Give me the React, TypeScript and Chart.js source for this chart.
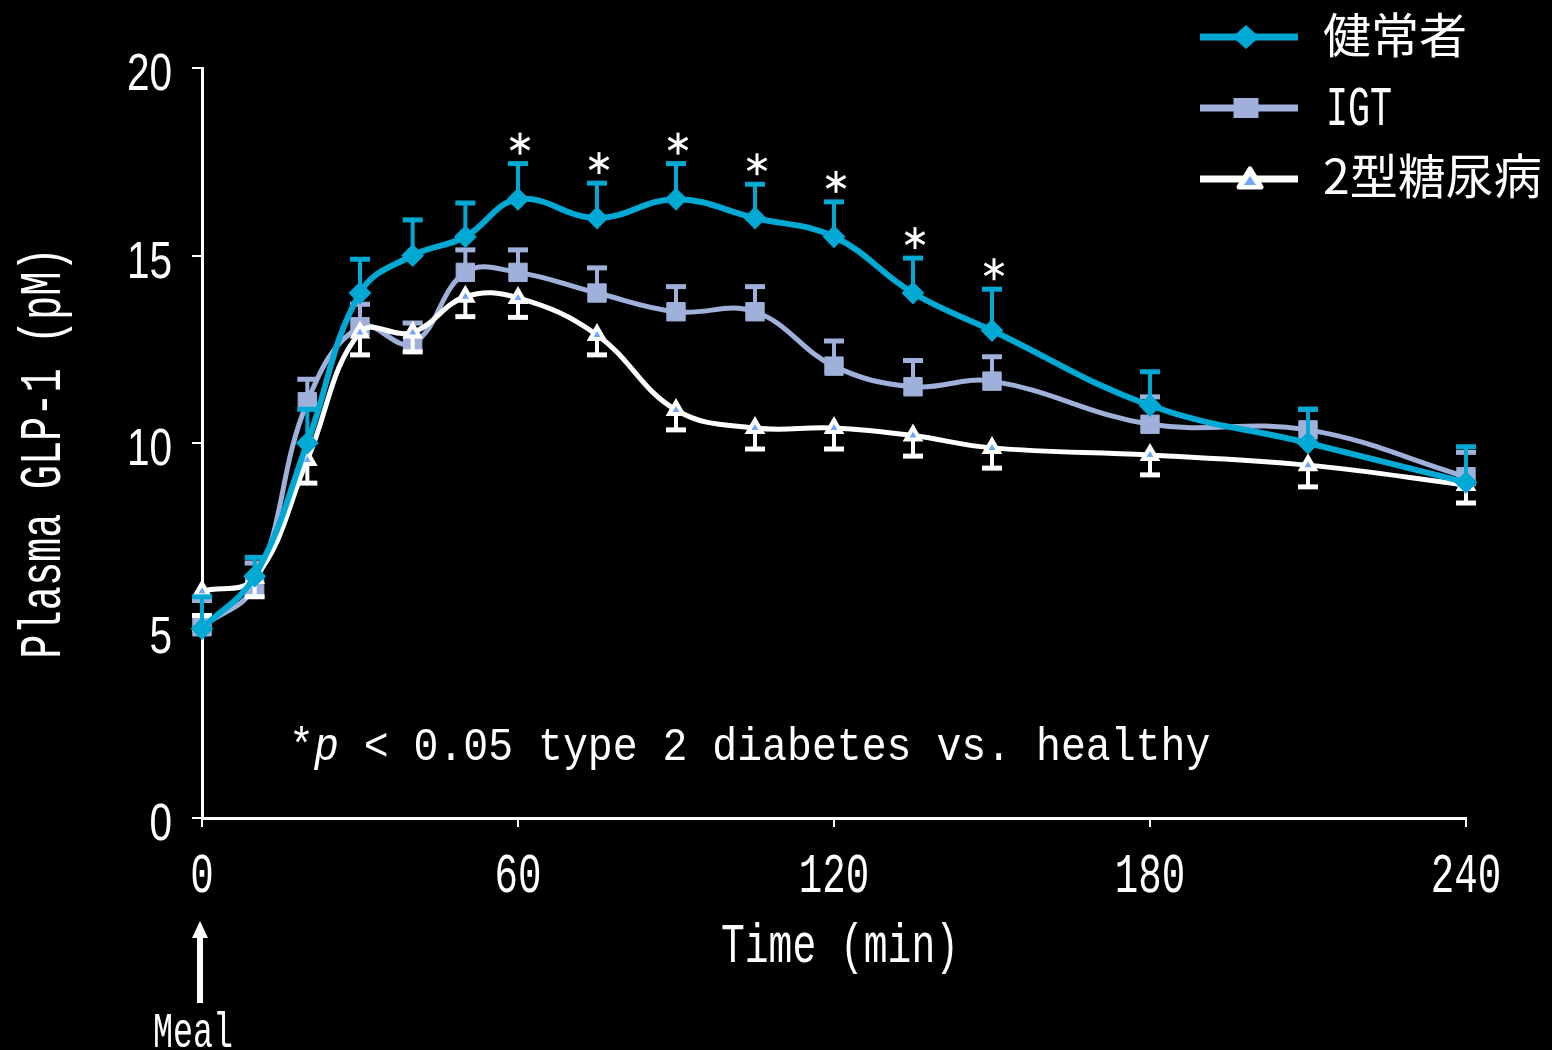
import React, { useEffect, useRef } from 'react';
import { Chart, registerables } from 'chart.js';

Chart.register(...registerables);

// ---------- data ----------
const timePoints = [0, 10, 20, 30, 40, 50, 60, 75, 90, 105, 120, 135, 150, 180, 210, 240];
const healthyMean = [5.05, 6.45, 10.0, 14.0, 15.0, 15.5, 16.5, 16.0, 16.5, 16.0, 15.5, 14.0, 13.0, 11.0, 10.0, 8.95];
const healthyUpper = [5.9, 6.95, 10.9, 14.9, 15.95, 16.4, 17.45, 16.93, 17.45, 16.9, 16.43, 14.93, 14.1, 11.9, 10.9, 9.9];
const igtMean = [5.1, 6.2, 11.1, 13.1, 12.65, 14.55, 14.55, 14.0, 13.5, 13.5, 12.05, 11.5, 11.65, 10.5, 10.35, 9.1];
const igtUpper = [5.8, 6.8, 11.7, 13.7, 13.2, 15.15, 15.15, 14.67, 14.17, 14.17, 12.72, 12.2, 12.3, 11.23, 10.9, 9.75];
const t2dMean = [6.05, 6.4, 9.55, 12.95, 12.95, 13.9, 13.87, 12.88, 10.88, 10.4, 10.4, 10.2, 9.87, 9.68, 9.41, 8.88];
const t2dLower = [5.4, 5.9, 8.93, 12.35, 12.43, 13.37, 13.35, 12.35, 10.35, 9.84, 9.84, 9.65, 9.33, 9.15, 8.83, 8.4];
const significantTimes = [60, 75, 90, 105, 120, 135, 150];
const xTickLabels = ['0', '60', '120', '180', '240'];
const yTickLabels = ['0', '5', '10', '15', '20'];
const seriesLabels = ['健常者', 'IGT', '2型糖尿病'];
const xTitle = 'Time (min)';
const yTitle = 'Plasma GLP-1 (pM)';
const noteParts = ['*', 'p', ' < 0.05 type 2 diabetes vs. healthy'];
const mealLabel = 'Meal';

// ---------- styles ----------
const CYAN = '#00a8d4';
const IGT_COLOR = '#9fb1db';
const WHITE = '#ffffff';
const TRI_FILL = '#6fa6ff';
const MONO = "'Liberation Mono', 'DejaVu Sans Mono', monospace";
const SANS = "'Liberation Sans', Arial, sans-serif";
const CJK = "'Noto Sans CJK JP', 'Noto Sans', sans-serif";

type Seg = { text: string; italic?: boolean };

function monoSize(ctx: CanvasRenderingContext2D, cap: number) {
  ctx.font = `100px ${MONO}`;
  const a = ctx.measureText('H').actualBoundingBoxAscent || 66;
  return (cap * 100) / a;
}

function drawMono(
  ctx: CanvasRenderingContext2D,
  segs: Seg[],
  x: number,
  y: number,
  cap: number,
  advance: number,
  align: 'left' | 'center' | 'right' = 'left',
  rotate = 0
) {
  ctx.save();
  const size = monoSize(ctx, cap);
  ctx.font = `${size}px ${MONO}`;
  const raw = ctx.measureText('0').width;
  const sx = advance / raw;
  const n = segs.reduce((a, s) => a + s.text.length, 0);
  const total = n * advance;
  ctx.translate(x, y);
  if (rotate) ctx.rotate(rotate);
  const start = align === 'center' ? -total / 2 : align === 'right' ? -total : 0;
  ctx.textAlign = 'left';
  ctx.textBaseline = 'alphabetic';
  ctx.fillStyle = WHITE;
  let i = 0;
  for (const s of segs) {
    ctx.save();
    ctx.font = `${s.italic ? 'italic ' : ''}${size}px ${MONO}`;
    ctx.translate(start + i * advance, 0);
    ctx.scale(sx, 1);
    ctx.fillText(s.text, 0, 0);
    ctx.restore();
    i += s.text.length;
  }
  ctx.restore();
}

function drawMarker(ctx: CanvasRenderingContext2D, kind: number, x: number, y: number) {
  ctx.save();
  if (kind === 0) {
    ctx.fillStyle = CYAN;
    ctx.beginPath();
    ctx.moveTo(x, y - 12);
    ctx.lineTo(x + 13.5, y);
    ctx.lineTo(x, y + 12);
    ctx.lineTo(x - 13.5, y);
    ctx.closePath();
    ctx.fill();
  } else if (kind === 1) {
    ctx.fillStyle = IGT_COLOR;
    ctx.fillRect(x - 12.5, y - 10, 25, 20);
  } else {
    ctx.fillStyle = WHITE;
    ctx.strokeStyle = WHITE;
    ctx.lineWidth = 5;
    ctx.lineJoin = 'round';
    ctx.beginPath();
    ctx.moveTo(x, y - 10);
    ctx.lineTo(x + 11, y + 8);
    ctx.lineTo(x - 11, y + 8);
    ctx.closePath();
    ctx.stroke();
    ctx.fill();
    ctx.fillStyle = TRI_FILL;
    ctx.beginPath();
    ctx.moveTo(x, y - 3);
    ctx.lineTo(x + 6, y + 6);
    ctx.lineTo(x - 6, y + 6);
    ctx.closePath();
    ctx.fill();
  }
  ctx.restore();
}

const errorBarPlugin = {
  id: 'errorBars',
  beforeDatasetDraw(chart: any, args: any) {
    const ds = chart.data.datasets[args.index] as any;
    const ends: number[] | undefined = ds.errorEnds;
    if (!ends) return;
    const { ctx } = chart;
    const ys = chart.scales.y;
    ctx.save();
    ctx.strokeStyle = ds.errorColor;
    ctx.lineCap = 'butt';
    args.meta.data.forEach((pt: any, i: number) => {
      const yEnd = ys.getPixelForValue(ends[i]);
      ctx.lineWidth = 4;
      ctx.beginPath();
      ctx.moveTo(pt.x, pt.y);
      ctx.lineTo(pt.x, yEnd);
      ctx.stroke();
      ctx.lineWidth = 5;
      ctx.beginPath();
      ctx.moveTo(pt.x - 10, yEnd);
      ctx.lineTo(pt.x + 10, yEnd);
      ctx.stroke();
    });
    ctx.restore();
  },
};

const decorPlugin = {
  id: 'decor',
  afterDraw(chart: any) {
    const { ctx } = chart;
    const xs = chart.scales.x;
    const ys = chart.scales.y;

    // asterisks
    ctx.save();
    ctx.strokeStyle = WHITE;
    ctx.lineWidth = 3;
    significantTimes.forEach((t) => {
      const i = timePoints.indexOf(t);
      const cx = xs.getPixelForValue(t) + 2;
      const cy = ys.getPixelForValue(healthyUpper[i]) - 20;
      [90, 30, 150].forEach((deg) => {
        const r = (deg * Math.PI) / 180;
        const dx = Math.cos(r) * 11;
        const dy = Math.sin(r) * 11;
        ctx.beginPath();
        ctx.moveTo(cx - dx, cy - dy);
        ctx.lineTo(cx + dx, cy + dy);
        ctx.stroke();
      });
    });
    ctx.restore();

    // y tick labels
    ctx.save();
    ctx.fillStyle = WHITE;
    ctx.font = `52px ${SANS}`;
    ctx.textAlign = 'right';
    ctx.textBaseline = 'alphabetic';
    yTickLabels.forEach((lab) => {
      const py = ys.getPixelForValue(Number(lab));
      ctx.save();
      ctx.translate(172, py + 22);
      ctx.scale(0.78, 1);
      ctx.fillText(lab, 0, 0);
      ctx.restore();
    });
    ctx.restore();

    // x tick labels
    xTickLabels.forEach((lab) => {
      const px = xs.getPixelForValue(Number(lab));
      drawMono(ctx, [{ text: lab }], px, 892, 37, 23.5, 'center');
    });

    // axis titles
    drawMono(ctx, [{ text: xTitle }], 840, 962, 37, 23.8, 'center');
    drawMono(ctx, [{ text: yTitle }], 60, 453, 40, 24.2, 'center', -Math.PI / 2);

    // note
    drawMono(
      ctx,
      [{ text: noteParts[0] }, { text: noteParts[1], italic: true }, { text: noteParts[2] }],
      289,
      760,
      31,
      24.9,
      'left'
    );

    // meal arrow
    const mx = xs.getPixelForValue(0) - 2;
    ctx.save();
    ctx.strokeStyle = WHITE;
    ctx.fillStyle = WHITE;
    ctx.lineWidth = 6;
    ctx.beginPath();
    ctx.moveTo(mx, 1003);
    ctx.lineTo(mx, 935);
    ctx.stroke();
    ctx.beginPath();
    ctx.moveTo(mx, 921);
    ctx.lineTo(mx + 8, 938);
    ctx.lineTo(mx - 8, 938);
    ctx.closePath();
    ctx.fill();
    ctx.restore();
    drawMono(ctx, [{ text: mealLabel }], 193, 1047, 34, 20, 'center');

    // legend
    const rows = [
      { y: 37, color: CYAN },
      { y: 108, color: IGT_COLOR },
      { y: 179, color: WHITE },
    ];
    rows.forEach((r, k) => {
      ctx.save();
      ctx.strokeStyle = r.color;
      ctx.lineWidth = 7;
      ctx.beginPath();
      ctx.moveTo(1200, r.y);
      ctx.lineTo(1298, r.y);
      ctx.stroke();
      ctx.restore();
      drawMarker(ctx, k, k === 2 ? 1250 : 1246, r.y);
    });
    ctx.save();
    ctx.fillStyle = WHITE;
    ctx.font = `48px ${CJK}`;
    ctx.textAlign = 'left';
    ctx.textBaseline = 'middle';
    ctx.fillText(seriesLabels[0], 1323, 35);
    ctx.fillText(seriesLabels[2], 1323, 176);
    ctx.restore();
    drawMono(ctx, [{ text: seriesLabels[1] }], 1326, 125, 37, 22, 'left');
  },
};

const pts = (ys: number[]) => timePoints.map((t, i) => ({ x: t, y: ys[i] }));

export default function App() {
  const ref = useRef<HTMLCanvasElement | null>(null);

  useEffect(() => {
    document.body.style.margin = '0';
    document.body.style.background = '#000';
    const canvas = ref.current;
    if (!canvas) return;
    const chart = new Chart(canvas, {
      type: 'line',
      data: {
        datasets: [
          {
            label: seriesLabels[0],
            data: pts(healthyMean),
            borderColor: CYAN,
            backgroundColor: CYAN,
            borderWidth: 6,
            pointStyle: 'rectRot',
            pointRadius: 10,
            pointBorderWidth: 2,
            pointBackgroundColor: CYAN,
            pointBorderColor: CYAN,
            tension: 0.4,
            order: 0,
            clip: false,
            errorEnds: healthyUpper,
            errorColor: CYAN,
          } as any,
          {
            label: seriesLabels[1],
            data: pts(igtMean),
            borderColor: IGT_COLOR,
            backgroundColor: IGT_COLOR,
            borderWidth: 5,
            pointStyle: 'rect',
            pointRadius: 13,
            pointBorderWidth: 1,
            pointBackgroundColor: IGT_COLOR,
            pointBorderColor: IGT_COLOR,
            tension: 0.4,
            order: 2,
            clip: false,
            errorEnds: igtUpper,
            errorColor: IGT_COLOR,
          } as any,
          {
            label: seriesLabels[2],
            data: pts(t2dMean),
            borderColor: WHITE,
            backgroundColor: TRI_FILL,
            borderWidth: 5,
            pointStyle: 'triangle',
            pointRadius: 8,
            pointBorderWidth: 4,
            pointBackgroundColor: TRI_FILL,
            pointBorderColor: WHITE,
            tension: 0.4,
            order: 1,
            clip: false,
            errorEnds: t2dLower,
            errorColor: WHITE,
          } as any,
        ],
      },
      options: {
        responsive: false,
        animation: false,
        events: [],
        layout: { padding: { left: 0, right: 86, top: 68, bottom: 0 } },
        plugins: {
          legend: { display: false },
          tooltip: { enabled: false },
        },
        scales: {
          x: {
            type: 'linear',
            min: 0,
            max: 240,
            ticks: { display: false, stepSize: 60 },
            grid: {
              display: true,
              drawOnChartArea: false,
              drawTicks: true,
              tickLength: 9,
              color: WHITE,
              lineWidth: 2,
            },
            border: { display: true, color: WHITE, width: 3 },
            afterFit: (s: any) => {
              s.height = 232;
            },
          },
          y: {
            type: 'linear',
            min: 0,
            max: 20,
            ticks: { display: false, stepSize: 5 },
            grid: {
              display: true,
              drawOnChartArea: false,
              drawTicks: true,
              tickLength: 10,
              color: WHITE,
              lineWidth: 2,
            },
            border: { display: true, color: WHITE, width: 3 },
            afterFit: (s: any) => {
              s.width = 202;
            },
          },
        },
      } as any,
      plugins: [errorBarPlugin, decorPlugin],
    });
    return () => chart.destroy();
  }, []);

  return (
    <div style={{ position: 'fixed', left: 0, top: 0, width: 1552, height: 1050, background: '#000' }}>
      <canvas ref={ref} width={1552} height={1050} style={{ display: 'block' }} />
    </div>
  );
}
